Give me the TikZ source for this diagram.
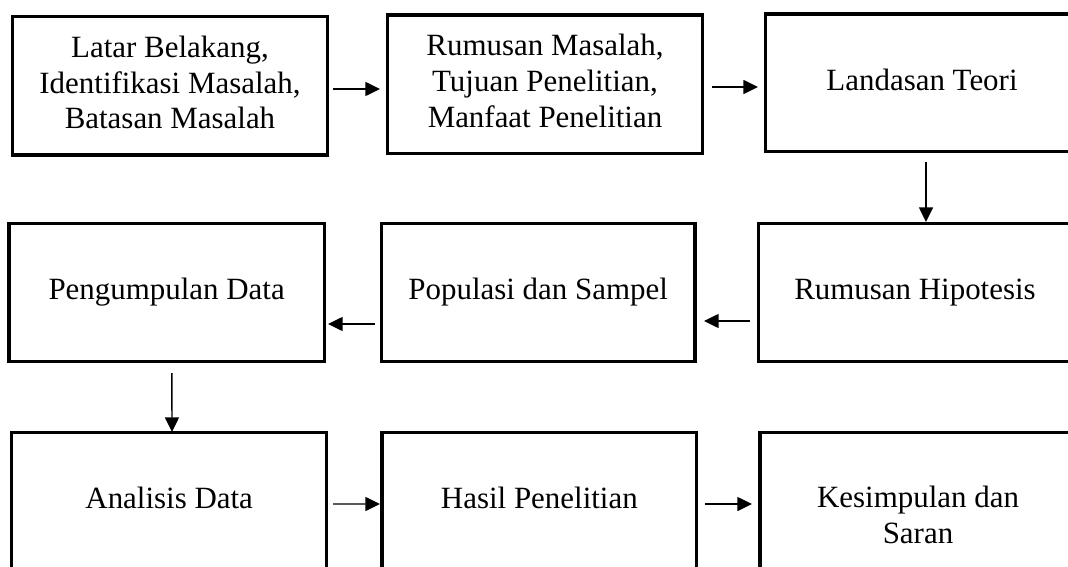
\documentclass[tikz,border=0pt]{standalone}
\usepackage{fontspec}
\setmainfont{Liberation Serif}[Ligatures=CommonOff]
\usetikzlibrary{fit,calc,arrows.meta}
\tikzset{
  box/.style={draw, line width=2.4pt, inner sep=0pt, outer sep=0pt},
  txt/.style={align=center, inner sep=0pt, text depth=0pt, yshift=2.55pt,
    font=\fontsize{23.2}{26.8}\selectfont},
  arr/.style={line width=1.1pt, -{Triangle[length=11pt,width=10.5pt]}}
}
\begin{document}
\begin{tikzpicture}[x=0.75pt,y=-0.75pt]
\useasboundingbox (0,0) rectangle (1068,567);
\clip (0,0) rectangle (1068,567);
% row 1
\node[box, fit={(12.5,16.5) (327.5,155)},
  label={[txt]center:{Latar Belakang,\\Identifikasi Masalah,\\Batasan Masalah}}] (b1) {};
\node[box, fit={(387.5,15) (702.5,153.5)},
  label={[txt]center:{Rumusan Masalah,\\Tujuan Penelitian,\\Manfaat Penelitian}}] (b2) {};
\node[box, fit={(765.5,14) (1078.5,151.5)},
  label={[txt]center:{Landasan Teori}}] (b3) {};
% row 2
\node[box, fit={(9,223.3) (324.3,361.7)},
  label={[txt]center:{Pengumpulan Data}}] (b4) {};
\node[box, fit={(381.3,223.3) (695,361.7)},
  label={[txt]center:{Populasi dan Sampel}}] (b5) {};
\node[box, fit={(758.5,223.3) (1071.5,361.7)},
  label={[txt]center:{Rumusan Hipotesis}}] (b6) {};
% row 3
\node[box, fit={(11.7,432.7) (326.7,570)},
  label={[txt]center:{Analisis Data}}] (b7) {};
\node[box, fit={(382,432.3) (696.7,570)},
  label={[txt]center:{Hasil Penelitian}}] (b8) {};
\node[box, fit={(760,432.3) (1076,604)},
  label={[txt]center:{Kesimpulan dan\\Saran}}] (b9) {};
% arrows
\draw[arr] ($(b1.east)+(5.5,3.25)$) -- ($(b2.west)+(-7.5,4.75)$);
\draw[arr] ($(b2.east)+(9.5,2.75)$) -- ($(b3.west)+(-7.5,4.25)$);
\draw[arr] ($(b3.south)+(4,10.5)$) -- ($(b6.north)+(11,-1.3)$);
\draw[arr] ($(b6.west)+(-8.5,28.5)$) -- ($(b5.east)+(9,28.5)$);
\draw[arr] ($(b5.west)+(-6.3,31.5)$) -- ($(b4.east)+(3.7,31.5)$);
\draw[arr] ($(b4.south)+(5.3,11.3)$) -- ($(b7.north)+(2.8,-0.7)$);
\draw[arr] ($(b7.east)+(6.3,2.65)$) -- ($(b8.west)+(-2,2.85)$);
\draw[arr] ($(b8.east)+(8.3,2.85)$) -- ($(b9.west)+(-8,-14.15)$);
\end{tikzpicture}
\end{document}
